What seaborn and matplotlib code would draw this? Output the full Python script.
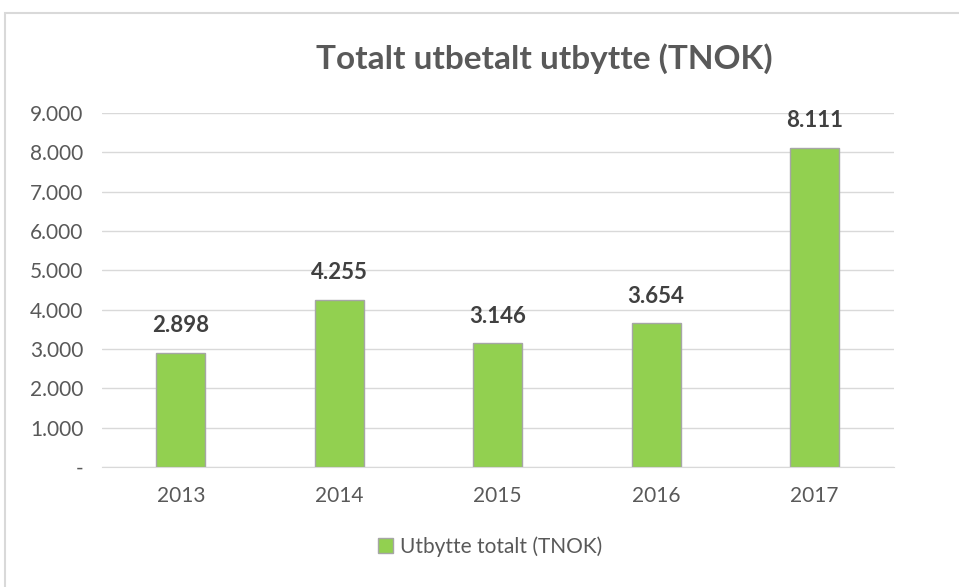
import numpy as np
import pandas as pd
import seaborn as sns
import matplotlib.pyplot as plt
import matplotlib.patches as mpatches
import matplotlib.ticker as mtick

years = ["2013", "2014", "2015", "2016", "2017"]
values = [2898, 4255, 3146, 3654, 8111]
series_name = "Utbytte totalt (TNOK)"
title = "Totalt utbetalt utbytte (TNOK)"

GREEN = "#92D050"
TEXT = "#595959"


def fmt_no(v, pos=None):
    if v == 0:
        return "-"
    return f"{v:,.0f}".replace(",", ".")


def main():
    sns.set_style("white")
    plt.rcParams["font.family"] = ["Lato", "DejaVu Sans"]

    df = pd.DataFrame({"year": years, "value": values, "series": series_name})

    fig = plt.figure(figsize=(9.59, 5.87), dpi=100)
    ax = fig.add_axes([0.106, 0.2044, 0.826, 0.6031])

    sns.barplot(data=df, x="year", y="value", hue="series", palette=[GREEN],
                saturation=1, width=0.31, edgecolor="#a6a6a6", linewidth=1,
                ax=ax, zorder=3)

    ax.set_ylim(0, 9000)
    ax.yaxis.set_major_locator(mtick.MultipleLocator(1000))
    ax.yaxis.set_major_formatter(mtick.FuncFormatter(fmt_no))
    ax.grid(axis="y", color="#d9d9d9", linewidth=1, zorder=0)
    for s in ["top", "right", "left"]:
        ax.spines[s].set_visible(False)
    ax.spines["bottom"].set_color("#d9d9d9")
    ax.tick_params(axis="both", length=0, labelsize=15, labelcolor=TEXT)
    ax.tick_params(axis="y", pad=13)
    ax.tick_params(axis="x", pad=14)
    ax.set_xlabel("")
    ax.set_ylabel("")

    for i, v in enumerate(values):
        ax.annotate(fmt_no(v), (i, v), xytext=(0, 12), textcoords="offset points",
                    ha="center", va="bottom", fontsize=16, fontweight="bold",
                    color="#404040")

    fig.text(0.568, 0.90, title, ha="center", va="center", fontsize=24,
             fontweight="bold", color=TEXT)

    ax.legend(loc="center", bbox_to_anchor=(0.49, -0.225), frameon=False,
              fontsize=15, labelcolor=TEXT, handlelength=0.75, handleheight=0.75,
              handletextpad=0.3)

    # outer chart border
    border = mpatches.Rectangle((5 / 959, -0.1), 1.2, 1 - 13 / 587 + 0.1,
                                transform=fig.transFigure, fill=False,
                                edgecolor="#d9d9d9", linewidth=1.5)
    fig.patches.append(border)

    fig.savefig("out.png", dpi=100)


if __name__ == "__main__":
    main()
